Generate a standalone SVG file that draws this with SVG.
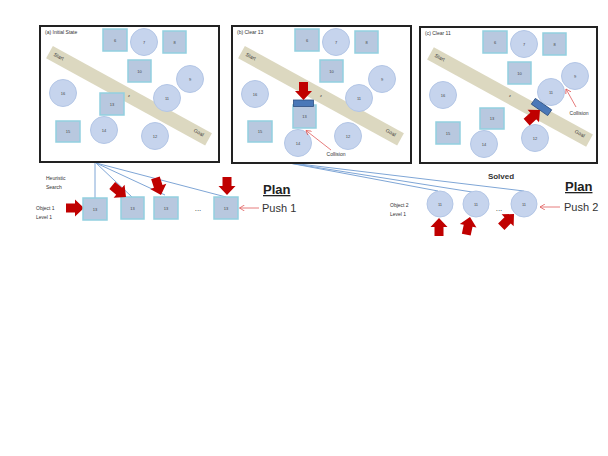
<svg xmlns="http://www.w3.org/2000/svg" width="608" height="456" viewBox="0 0 608 456">
<style>
text{font-family:"Liberation Sans",Arial,sans-serif;fill:#333}
.frame{fill:#fff;stroke:#222;stroke-width:2}
.band{fill:#dcd8c0}
.c{fill:#c6d4ed;stroke:#b3c6e6;stroke-width:1}
.s{fill:#b8c8df;stroke:#92d0e0;stroke-width:1.5}
.n{font-size:4px;text-anchor:middle;fill:#444}
.t{font-size:5px;fill:#333}
.bl{font-size:6px;fill:#333}
.sm{font-size:5px;fill:#333}
.link{stroke:#7fa6d6;stroke-width:1;fill:none}
.red{fill:#c00000}
.rl{stroke:#e05a5a;stroke-width:0.8;fill:none}
.bar{fill:#4a78b8;stroke:#2f4f80;stroke-width:0.8}
.plan{font-size:13px;font-weight:bold;text-decoration:underline;fill:#222}
.push{font-size:11px;fill:#333}
</style>
<defs>
<path id="blk" d="M0,0 L-9,-8.5 V-4.5 H-18 V4.5 H-9 V8.5 Z"/>
<marker id="ah" markerWidth="6" markerHeight="6" refX="5" refY="3" orient="auto" markerUnits="userSpaceOnUse">
<path d="M0,0 L5,3 L0,6" fill="none" stroke="#e05a5a" stroke-width="0.8"/>
</marker>
</defs>
<rect width="608" height="456" fill="#fff"/>

<g id="connectors">
<line class="link" x1="95" y1="163" x2="95" y2="198"/>
<line class="link" x1="96" y1="163" x2="132" y2="197"/>
<line class="link" x1="96" y1="163" x2="165" y2="195"/>
<line class="link" x1="96" y1="163" x2="226" y2="197"/>
<line class="link" x1="289" y1="163" x2="438" y2="191"/>
<line class="link" x1="289" y1="163" x2="472" y2="192"/>
<line class="link" x1="291" y1="163" x2="524" y2="191"/>
</g>

<g id="panel-a">
<rect class="frame" x="40" y="26" width="179" height="136"/>
<text class="t" x="45" y="34">(a) Initial State</text>
<rect class="band" x="-90.75" y="-7" width="181.5" height="14" transform="translate(129,95.75) rotate(28.8)"/>
<text class="sm" transform="translate(58,58) rotate(28.8)" text-anchor="middle">Start</text>
<text class="sm" transform="translate(198,134) rotate(28.8)" text-anchor="middle">Goal</text>
<text class="n" x="129" y="97">z</text>
<g id="a6"><rect class="s" x="103" y="29" width="24" height="22"/><text class="n" x="115" y="41.5">6</text></g>
<g id="a7"><circle class="c" cx="144" cy="42" r="13.5"/><text class="n" x="144" y="43.5">7</text></g>
<g id="a8"><rect class="s" x="163" y="31" width="23" height="22"/><text class="n" x="174.5" y="43.5">8</text></g>
<g id="a10"><rect class="s" x="128" y="60" width="23" height="22"/><text class="n" x="139.5" y="72.5">10</text></g>
<g id="a9"><circle class="c" cx="190" cy="79" r="13.5"/><text class="n" x="190" y="80.5">9</text></g>
<g id="a16"><circle class="c" cx="63" cy="93" r="13.5"/><text class="n" x="63" y="94.5">16</text></g>
<g id="a13"><rect class="s" x="100" y="93" width="24" height="22"/><text class="n" x="112" y="105.5">13</text></g>
<g id="a11"><circle class="c" cx="167" cy="98" r="13.5"/><text class="n" x="167" y="99.5">11</text></g>
<g id="a15"><rect class="s" x="56" y="121" width="24" height="21"/><text class="n" x="68" y="133">15</text></g>
<g id="a14"><circle class="c" cx="104" cy="130" r="13.5"/><text class="n" x="104" y="131.5">14</text></g>
<g id="a12"><circle class="c" cx="155" cy="136" r="13.5"/><text class="n" x="155" y="137.5">12</text></g>
</g>

<g id="panel-b">
<rect class="frame" x="232" y="26" width="179" height="137"/>
<text class="t" x="237" y="34">(b) Clear 13</text>
<rect class="band" x="-90.75" y="-7" width="181.5" height="14" transform="translate(321,95.75) rotate(28.8)"/>
<text class="sm" transform="translate(250,58) rotate(28.8)" text-anchor="middle">Start</text>
<text class="sm" transform="translate(390,134) rotate(28.8)" text-anchor="middle">Goal</text>
<text class="n" x="321" y="97">z</text>
<g id="b6"><rect class="s" x="295" y="29" width="24" height="22"/><text class="n" x="307" y="41.5">6</text></g>
<g id="b7"><circle class="c" cx="336" cy="42" r="13.5"/><text class="n" x="336" y="43.5">7</text></g>
<g id="b8"><rect class="s" x="355" y="31" width="23" height="22"/><text class="n" x="366.5" y="43.5">8</text></g>
<g id="b10"><rect class="s" x="320" y="60" width="23" height="22"/><text class="n" x="331.5" y="72.5">10</text></g>
<g id="b9"><circle class="c" cx="382" cy="79" r="13.5"/><text class="n" x="382" y="80.5">9</text></g>
<g id="b16"><circle class="c" cx="255" cy="94" r="13.5"/><text class="n" x="255" y="95.5">16</text></g>
<g id="b11"><circle class="c" cx="359" cy="98" r="13.5"/><text class="n" x="359" y="99.5">11</text></g>
<g id="b15"><rect class="s" x="248" y="121" width="24" height="21"/><text class="n" x="260" y="133">15</text></g>
<g id="b12"><circle class="c" cx="348" cy="136" r="13.5"/><text class="n" x="348" y="137.5">12</text></g>
<g id="b13"><rect class="s" x="293" y="105" width="23" height="23"/><text class="n" x="304.5" y="118">13</text></g>
<g id="b14"><circle class="c" cx="298" cy="143" r="13.5"/><text class="n" x="298" y="144.5">14</text></g>
<rect class="bar" x="293.5" y="100" width="20" height="6.5"/>
<use href="#blk" class="red" transform="translate(303.5,100) rotate(90)"/>
<line class="rl" x1="331" y1="150" x2="306" y2="130.5" marker-end="url(#ah)"/>
<text class="sm" x="336" y="156" text-anchor="middle">Collision</text>
</g>

<g id="panel-c">
<rect class="frame" x="420" y="27" width="177" height="136"/>
<text class="t" x="425" y="35">(c) Clear 11</text>
<rect class="band" x="-90.75" y="-7" width="181.5" height="14" transform="translate(510,97) rotate(28.8)"/>
<text class="sm" transform="translate(439,59) rotate(28.8)" text-anchor="middle">Start</text>
<text class="sm" transform="translate(579,135) rotate(28.8)" text-anchor="middle">Goal</text>
<text class="n" x="510" y="97">z</text>
<g id="c6"><rect class="s" x="483" y="31" width="24" height="22"/><text class="n" x="495" y="43.5">6</text></g>
<g id="c7"><circle class="c" cx="524" cy="44" r="13.5"/><text class="n" x="524" y="45.5">7</text></g>
<g id="c8"><rect class="s" x="543" y="33" width="23" height="22"/><text class="n" x="554.5" y="45.5">8</text></g>
<g id="c10"><rect class="s" x="508" y="62" width="23" height="22"/><text class="n" x="519.5" y="74.5">10</text></g>
<g id="c9"><circle class="c" cx="575" cy="76" r="13.5"/><text class="n" x="575" y="77.5">9</text></g>
<g id="c16"><circle class="c" cx="443" cy="95" r="13.5"/><text class="n" x="443" y="96.5">16</text></g>
<g id="c11"><circle class="c" cx="551" cy="92" r="13.5"/><text class="n" x="551" y="93.5">11</text></g>
<g id="c13"><rect class="s" x="480" y="108" width="24" height="21"/><text class="n" x="492" y="120">13</text></g>
<g id="c15"><rect class="s" x="436" y="122" width="24" height="22"/><text class="n" x="448" y="134.5">15</text></g>
<g id="c14"><circle class="c" cx="484" cy="144" r="13.5"/><text class="n" x="484" y="145.5">14</text></g>
<g id="c12"><circle class="c" cx="535" cy="138" r="13.5"/><text class="n" x="535" y="139.5">12</text></g>
<rect class="bar" x="-10" y="-3.5" width="20" height="7" transform="translate(541.5,107) rotate(35)"/>
<use href="#blk" class="red" transform="translate(540,110) rotate(-42)"/>
<line class="rl" x1="576" y1="107" x2="566" y2="89" marker-end="url(#ah)"/>
<text class="sm" x="579" y="115" text-anchor="middle">Collision</text>
</g>

<g id="plan1">
<text class="sm" x="46" y="180">Heuristic</text>
<text class="sm" x="46" y="189">Search</text>
<text class="sm" x="36" y="210">Object 1</text>
<text class="sm" x="36" y="219">Level 1</text>
<use href="#blk" class="red" transform="translate(84,208)"/>
<g id="p1a"><rect class="s" x="83" y="198" width="24" height="22"/><text class="n" x="95" y="210.5">13</text></g>
<g id="p1b"><rect class="s" x="121" y="197" width="23" height="22"/><text class="n" x="132.5" y="209.5">13</text></g>
<g id="p1c"><rect class="s" x="154" y="197" width="24" height="22"/><text class="n" x="166" y="209.5">13</text></g>
<text x="198" y="211" font-size="8" text-anchor="middle">...</text>
<g id="p1d"><rect class="s" x="214" y="197" width="24" height="22"/><text class="n" x="226" y="209.5">13</text></g>
<use href="#blk" class="red" transform="translate(126,197) rotate(40)"/>
<use href="#blk" class="red" transform="translate(161,195) rotate(72)"/>
<use href="#blk" class="red" transform="translate(227,195) rotate(90)"/>
<line class="rl" x1="259" y1="208" x2="239.5" y2="208" marker-end="url(#ah)"/>
<text class="push" x="262" y="212">Push 1</text>
<text class="plan" x="263" y="194">Plan</text>
</g>

<g id="plan2">
<text x="501" y="179" font-size="8" font-weight="bold" text-anchor="middle">Solved</text>
<text class="sm" x="390" y="207">Object 2</text>
<text class="sm" x="390" y="216">Level 1</text>
<g id="p2a"><circle class="c" cx="440" cy="204" r="13"/><text class="n" x="440" y="205.5">11</text></g>
<g id="p2b"><circle class="c" cx="476" cy="204" r="13"/><text class="n" x="476" y="205.5">11</text></g>
<text x="499" y="211" font-size="8" text-anchor="middle">...</text>
<g id="p2c"><circle class="c" cx="524" cy="204" r="13"/><text class="n" x="524" y="205.5">11</text></g>
<use href="#blk" class="red" transform="translate(439,218) rotate(-90)"/>
<use href="#blk" class="red" transform="translate(470,217) rotate(-78)"/>
<use href="#blk" class="red" transform="translate(514,214) rotate(-45)"/>
<line class="rl" x1="560" y1="207" x2="540" y2="207" marker-end="url(#ah)"/>
<text class="push" x="564" y="211">Push 2</text>
<text class="plan" x="565" y="191">Plan</text>
</g>
</svg>
